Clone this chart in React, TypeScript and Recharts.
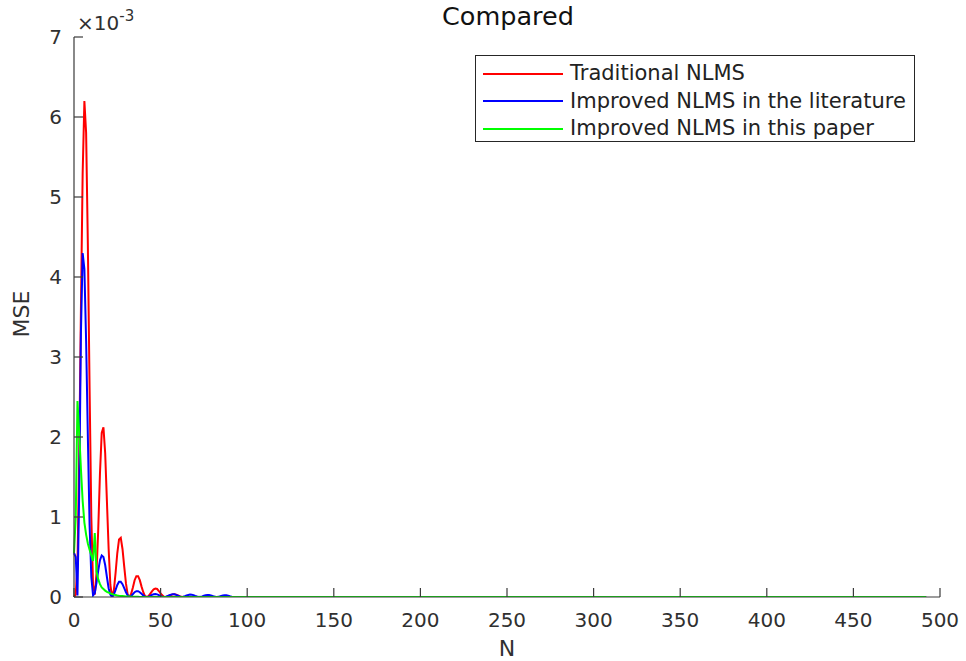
import React from 'react';
import { LineChart, Line, XAxis, YAxis, Legend, Label } from 'recharts';

const FONT = '"DejaVu Sans", "Liberation Sans", sans-serif';
const AXIS = '#3a3a3a';
const TEXT = '#303030';

// iteration index N
const iterations = [
  0, 1, 2, 3, 4, 5, 6, 7, 8, 9,
  10, 11, 12, 13, 14, 15, 16, 17, 18, 19,
  20, 21, 22, 23, 24, 25, 26, 27, 28, 29,
  30, 31, 32, 33, 34, 35, 36, 37, 38, 39,
  40, 41, 42, 43, 44, 45, 46, 47, 48, 49,
  50, 51, 52, 53, 54, 55, 56, 57, 58, 59,
  60, 61, 62, 63, 64, 65, 66, 67, 68, 69,
  70, 71, 72, 73, 74, 75, 76, 77, 78, 79,
  80, 81, 82, 83, 84, 85, 86, 87, 88, 89,
  90, 91, 92, 492,
];

// MSE values in units of 10^-3
const traditionalNlms = [
  0, 0.03, 0.4, 1.75, 3.6, 5.3, 6.2, 5.8, 4.4, 2.6,
  1.0, 0.15, 0.03, 0.3, 0.85, 1.55, 2.05, 2.12, 1.8, 1.2,
  0.6, 0.15, 0, 0.08, 0.3, 0.55, 0.72, 0.74, 0.6, 0.38,
  0.17, 0.03, 0, 0.04, 0.12, 0.21, 0.26, 0.26, 0.21, 0.13,
  0.06, 0.01, 0, 0.01, 0.04, 0.07, 0.095, 0.105, 0.1, 0.075,
  0.045, 0.02, 0.003, 0, 0.005, 0.015, 0.025, 0.033, 0.035, 0.03,
  0.02, 0.01, 0.002, 0, 0, 0, 0, 0, 0, 0,
  0, 0, 0, 0, 0, 0, 0, 0, 0, 0,
  0, 0, 0, 0, 0, 0, 0, 0, 0, 0,
  0, 0, 0, 0,
];

const literatureNlms = [
  0.55, 0.5, 0.02, 1.3, 3.3, 4.3, 4.1, 3.2, 2.0, 0.9,
  0.25, 0.02, 0.05, 0.18, 0.33, 0.46, 0.52, 0.5, 0.4, 0.25,
  0.11, 0.03, 0, 0.03, 0.09, 0.15, 0.19, 0.19, 0.16, 0.11,
  0.06, 0.02, 0, 0.01, 0.035, 0.06, 0.072, 0.072, 0.06, 0.04,
  0.02, 0.005, 0, 0.005, 0.015, 0.027, 0.035, 0.037, 0.033, 0.024,
  0.013, 0.004, 0, 0.004, 0.012, 0.022, 0.03, 0.034, 0.033, 0.027,
  0.017, 0.007, 0.001, 0.003, 0.01, 0.019, 0.026, 0.03, 0.029, 0.023,
  0.014, 0.006, 0.001, 0.002, 0.008, 0.016, 0.022, 0.026, 0.025, 0.02,
  0.012, 0.005, 0.001, 0.002, 0.007, 0.013, 0.019, 0.022, 0.022, 0.017,
  0.01, 0.004, 0, 0,
];

const paperNlms = [
  0.55, 1.0, 2.45, 2.05, 1.6, 1.2, 0.93, 0.78, 0.67, 0.59,
  0.52, 0.45, 0.8, 0.32, 0.22, 0.16, 0.12, 0.1, 0.08, 0.065,
  0.055, 0.045, 0.037, 0.03, 0.025, 0.02, 0.016, 0.013, 0.011, 0.009,
  0.007, 0.006, 0.005, 0.004, 0.003, 0.003, 0.002, 0.002, 0.001, 0.001,
  0, 0, 0, 0, 0, 0, 0, 0, 0, 0,
  0, 0, 0, 0, 0, 0, 0, 0, 0, 0,
  0, 0, 0, 0, 0, 0, 0, 0, 0, 0,
  0, 0, 0, 0, 0, 0, 0, 0, 0, 0,
  0, 0, 0, 0, 0, 0, 0, 0, 0, 0,
  0, 0, 0, 0,
];

const xTicks = [0, 50, 100, 150, 200, 250, 300, 350, 400, 450, 500];
const yTicks = [0, 1, 2, 3, 4, 5, 6, 7];

const seriesNames = ['Traditional NLMS', 'Improved NLMS in the literature', 'Improved NLMS in this paper'];
const seriesColors = ['#ff0000', '#0000ff', '#00ff00'];

const data = iterations.map((n, i) => ({
  n,
  trad: traditionalNlms[i],
  lit: literatureNlms[i],
  paper: paperNlms[i],
}));

const TICK_LEN = 9;
const Y_MARGIN = 12;
const X_MARGIN = 10;

function YTick(props: any) {
  const { x, y, payload } = props;
  const ax = x + Y_MARGIN;
  return (
    <g>
      <line x1={ax} x2={ax + TICK_LEN} y1={y} y2={y} stroke={AXIS} strokeWidth={1.2} />
      <text x={x} y={y} dy={7.3} textAnchor="end" fontSize={20} fontFamily={FONT} fill={TEXT}>
        {payload.value}
      </text>
    </g>
  );
}

function XTick(props: any) {
  const { x, y, payload } = props;
  const ay = y - X_MARGIN;
  return (
    <g>
      <line x1={x} x2={x} y1={ay} y2={ay - TICK_LEN} stroke={AXIS} strokeWidth={1.2} />
      <text x={x} y={y} dy={19.5} textAnchor="middle" fontSize={20} fontFamily={FONT} fill={TEXT}>
        {payload.value}
      </text>
    </g>
  );
}

function LegendBox(props: any) {
  const payload = [...(props.payload || [])].sort(
    (a: any, b: any) => seriesNames.indexOf(a.value) - seriesNames.indexOf(b.value)
  );
  return (
    <div
      style={{
        width: 440,
        height: 87,
        boxSizing: 'border-box',
        border: '1px solid #262626',
        background: '#fff',
        paddingTop: 4,
      }}
    >
      {payload.map((entry: any) => (
        <div key={entry.value} style={{ display: 'flex', alignItems: 'center', height: 27.5 }}>
          <div style={{ marginLeft: 7, width: 80, height: 0, borderTop: `2px solid ${entry.color}` }} />
          <span
            style={{
              marginLeft: 7,
              fontSize: 21,
              fontFamily: FONT,
              color: '#222',
              whiteSpace: 'nowrap',
              lineHeight: '27.5px',
            }}
          >
            {entry.value}
          </span>
        </div>
      ))}
    </div>
  );
}

export default function App() {
  return (
    <div style={{ position: 'absolute', left: 0, top: 0, width: 966, height: 661, background: '#fff' }}>
      <LineChart width={966} height={661} data={data} margin={{ top: 37, right: 26, left: 14, bottom: 24 }}>
        <XAxis
          dataKey="n"
          type="number"
          domain={[0, 500]}
          ticks={xTicks}
          height={40}
          tickSize={0}
          tickMargin={X_MARGIN}
          tickLine={false}
          tick={<XTick />}
          stroke={AXIS}
          strokeWidth={1.2}
          interval={0}
        >
          <Label value="N" position="bottom" offset={3} fontSize={22} fontFamily={FONT} fill={TEXT} />
        </XAxis>
        <YAxis
          type="number"
          domain={[0, 7]}
          ticks={yTicks}
          width={60}
          tickSize={0}
          tickMargin={Y_MARGIN}
          tickLine={false}
          tick={<YTick />}
          stroke={AXIS}
          strokeWidth={1.2}
          interval={0}
          allowDataOverflow
        >
          <Label
            content={() => (
              <text
                transform="translate(29,314) rotate(-90)"
                textAnchor="middle"
                fontSize={22}
                fontFamily={FONT}
                fill={TEXT}
              >
                MSE
              </text>
            )}
          />
        </YAxis>
        <Legend
          layout="horizontal"
          verticalAlign="middle"
          align="center"
          itemSorter={null as any}
          wrapperStyle={{ left: 475, top: 55, width: 440, height: 87 }}
          content={LegendBox}
        />
        <Line
          dataKey="trad"
          name={seriesNames[0]}
          stroke={seriesColors[0]}
          strokeWidth={2}
          dot={false}
          type="linear"
          isAnimationActive={false}
        />
        <Line
          dataKey="lit"
          name={seriesNames[1]}
          stroke={seriesColors[1]}
          strokeWidth={2}
          dot={false}
          type="linear"
          isAnimationActive={false}
        />
        <Line
          dataKey="paper"
          name={seriesNames[2]}
          stroke={seriesColors[2]}
          strokeWidth={2}
          dot={false}
          type="linear"
          isAnimationActive={false}
        />
      </LineChart>
      <svg
        width={966}
        height={661}
        style={{ position: 'absolute', left: 0, top: 0, pointerEvents: 'none' }}
      >
        <text x={508} y={24.5} textAnchor="middle" fontSize={25.5} fontFamily={FONT} fill="#111">
          Compared
        </text>
        <text x={77} y={30} fontSize={20} fontFamily={FONT} fill={TEXT}>
          ×10
          <tspan dy={-9} fontSize={15}>
            -3
          </tspan>
        </text>
      </svg>
    </div>
  );
}
